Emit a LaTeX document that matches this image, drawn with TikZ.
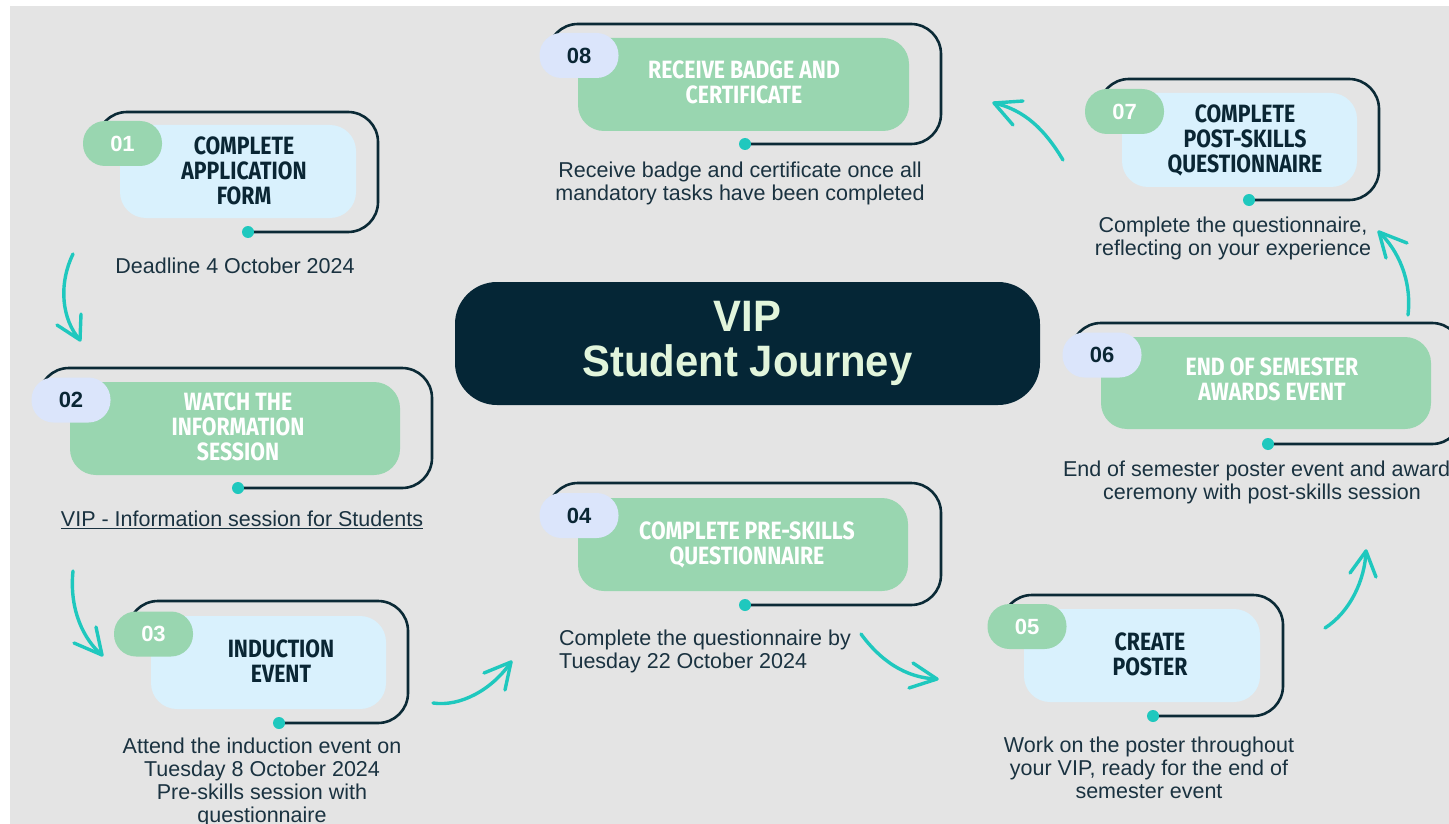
\documentclass[tikz,border=0pt]{standalone}
\usepackage{fontspec}
\setmainfont{Liberation Sans}
\newfontfamily\capsfont[FakeStretch=0.85]{Fira Sans}
\newfontfamily\hubfont[FakeStretch=0.95]{Liberation Sans}

\definecolor{paper}{HTML}{E4E4E4}
\definecolor{framecol}{HTML}{0B2A36}
\definecolor{ink}{HTML}{0A2634}
\definecolor{slate}{HTML}{1A3240}
\definecolor{boxblue}{HTML}{D9F1FD}
\definecolor{boxgreen}{HTML}{99D6B0}
\definecolor{lav}{HTML}{DBE5FB}
\definecolor{teal}{HTML}{1FC8BE}
\definecolor{navy}{HTML}{052636}
\definecolor{mint}{HTML}{E2F5DC}

\tikzset{
  frame/.style={draw=framecol, line width=2.6, rounded corners=30},
  card/.style={rounded corners=26, inner sep=0},
  bluecard/.style={card, fill=boxblue},
  greencard/.style={card, fill=boxgreen},
  badge/.style={rounded corners=22, minimum width=79, minimum height=45, inner sep=0,
    font=\bfseries\fontsize{22}{22}\selectfont},
  badgegreen/.style={badge, fill=boxgreen, text=white},
  badgelav/.style={badge, fill=lav, text=ink},
  ttl/.style={align=center, inner sep=0, font=\capsfont\bfseries\fontsize{25}{25}\selectfont},
  ttldark/.style={ttl, text=ink},
  ttllight/.style={ttl, text=white},
  desc/.style={align=center, inner sep=0, text=slate, font=\fontsize{21.5}{23}\selectfont},
  dot/.style={circle, fill=teal, inner sep=0, minimum size=12},
  trail/.style={draw=teal, line width=3.4, line cap=round, line join=round},
}

\begin{document}
\begin{tikzpicture}[x=1pt, y=-1pt]
\useasboundingbox (0,0) rectangle (1449,824);
\fill[white] (0,0) rectangle (1449,824);
\fill[paper] (10,6) rectangle (1449,824);

% ---- hub ----
\node[fill=navy, rounded corners=42, minimum width=585, minimum height=123, inner sep=0,
      align=center, text=mint, font=\hubfont\bfseries\fontsize{44}{45}\selectfont]
      (hub) at (747.5,343.5) {VIP\\Student Journey};

% ---- step 01 ----
\coordinate (c1) at (248,232);
\draw[frame] (97,150) |- (378,112) |- (c1);
\node[dot] (p1) at (c1) {};
\node[bluecard, minimum width=236, minimum height=93] (b1) at (238,171.5) {};
\node[badgegreen] (n1) at (122.5,143.5) {01};
\node[ttldark] (t1) at (244,170.5) {COMPLETE\\APPLICATION\\FORM};
\node[desc] (d1) at (235,266) {Deadline 4 October 2024};

% ---- step 02 ----
\coordinate (c2) at (238,488);
\draw[frame] (39,410) |- (432,368) |- (c2);
\node[dot] (p2) at (c2) {};
\node[greencard, minimum width=330, minimum height=93] (b2) at (235,428.5) {};
\node[badgelav] (n2) at (71,400) {02};
\node[ttllight] (t2) at (238,427) {WATCH THE\\INFORMATION\\SESSION};
\node[desc] (d2) at (242,520) {\underline{VIP - Information session for Students}};

% ---- step 03 ----
\coordinate (c3) at (279,723);
\draw[frame] (128,640) |- (408,601) |- (c3);
\node[dot] (p3) at (c3) {};
\node[bluecard, minimum width=235, minimum height=93] (b3) at (268.5,662.5) {};
\node[badgegreen] (n3) at (153.5,634) {03};
\node[ttldark] (t3) at (281,661) {INDUCTION\\EVENT};
\node[desc] (d3) at (262,782) {Attend the induction event on\\Tuesday 8 October 2024\\Pre-skills session with\\questionnaire};

% ---- step 04 ----
\coordinate (c4) at (745,605);
\draw[frame] (548,525) |- (941,483) |- (c4);
\node[dot] (p4) at (c4) {};
\node[greencard, minimum width=330, minimum height=93] (b4) at (743,544.5) {};
\node[badgelav] (n4) at (579,515.5) {04};
\node[ttllight] (t4) at (747,544.5) {COMPLETE PRE-SKILLS\\QUESTIONNAIRE};
\node[desc, align=left, anchor=west] (d4) at (559,651) {Complete the questionnaire by\\Tuesday 22 October 2024};

% ---- step 05 ----
\coordinate (c5) at (1153,716);
\draw[frame] (1002,635) |- (1283,595) |- (c5);
\node[dot] (p5) at (c5) {};
\node[bluecard, minimum width=236, minimum height=93] (b5) at (1142,655.5) {};
\node[badgegreen] (n5) at (1027,626.5) {05};
\node[ttldark] (t5) at (1150,654) {CREATE\\POSTER};
\node[desc] (d5) at (1149,768) {Work on the poster throughout\\your VIP, ready for the end of\\semester event};

% ---- step 06 ----
\coordinate (c6) at (1268,444);
\draw[frame] (1071,365) |- (1462,323) |- (c6);
\node[dot] (p6) at (c6) {};
\node[greencard, minimum width=330, minimum height=92] (b6) at (1266,383) {};
\node[badgelav] (n6) at (1102,355) {06};
\node[ttllight] (t6) at (1272,379) {END OF SEMESTER\\AWARDS EVENT};
\node[desc] (d6) at (1262,482) {End of semester poster event and award\phantom{s}\\ceremony with post-skills session};

% ---- step 07 ----
\coordinate (c7) at (1249,200);
\draw[frame] (1099,125) |- (1379,79) |- (c7);
\node[dot] (p7) at (c7) {};
\node[bluecard, minimum width=235, minimum height=94] (b7) at (1239.5,140) {};
\node[badgegreen] (n7) at (1124.5,111.5) {07};
\node[ttldark] (t7) at (1245,140.5) {COMPLETE\\POST-SKILLS\\QUESTIONNAIRE};
\node[desc] (d7) at (1233,238) {Complete the questionnaire,\\reflecting on your experience};

% ---- step 08 ----
\coordinate (c8) at (745,144);
\draw[frame] (548,65) |- (941,24) |- (c8);
\node[dot] (p8) at (c8) {};
\node[greencard, minimum width=331, minimum height=93] (b8) at (743.5,84.5) {};
\node[badgelav] (n8) at (579,55.5) {08};
\node[ttllight] (t8) at (744,82) {RECEIVE BADGE AND\\CERTIFICATE};
\node[desc] (d8) at (740,183) {Receive badge and certificate once all\\mandatory tasks have been completed};

% ---- hand-drawn arrows between the steps ----
\coordinate (a1s) at (73,254);   \coordinate (a1t) at (80,340);
\coordinate (a2s) at (73,571);   \coordinate (a2t) at (102,655);
\coordinate (a3s) at (433,703);  \coordinate (a3t) at (511,662);
\coordinate (a4s) at (861,634);  \coordinate (a4t) at (937,679);
\coordinate (a5s) at (1325,628); \coordinate (a5t) at (1366,551);
\coordinate (a6s) at (1408,315); \coordinate (a6t) at (1379,232);
\coordinate (a7s) at (1063,160); \coordinate (a7t) at (994,103);

\draw[trail] (a1s) .. controls (58,285) and (62,320) .. (a1t);
\draw[trail] (a1t) -- ++(-23,-15) (a1t) -- ++(1,-26);

\draw[trail] (a2s) .. controls (69,610) and (84,640) .. (a2t);
\draw[trail] (a2t) -- ++(-28,-12) (a2t) -- ++(-6,-28);

\draw[trail] (a3s) .. controls (460,707) and (492,690) .. (a3t);
\draw[trail] (a3t) -- ++(-27,11) (a3t) -- ++(-6,28);

\draw[trail] (a4s) .. controls (880,660) and (905,678) .. (a4t);
\draw[trail] (a4t) -- ++(-24,-16) (a4t) -- ++(-28,9);

\draw[trail] (a5s) .. controls (1350,612) and (1365,580) .. (a5t);
\draw[trail] (a5t) -- ++(-16,22) (a5t) -- ++(10,26);

\draw[trail] (a6s) .. controls (1412,280) and (1398,250) .. (a6t);
\draw[trail] (a6t) -- ++(28,11) (a6t) -- ++(7,26);

\draw[trail] (a7s) .. controls (1045,130) and (1025,110) .. (a7t);
\draw[trail] (a7t) -- ++(29,-2) (a7t) -- ++(19,22);
\end{tikzpicture}
\end{document}
